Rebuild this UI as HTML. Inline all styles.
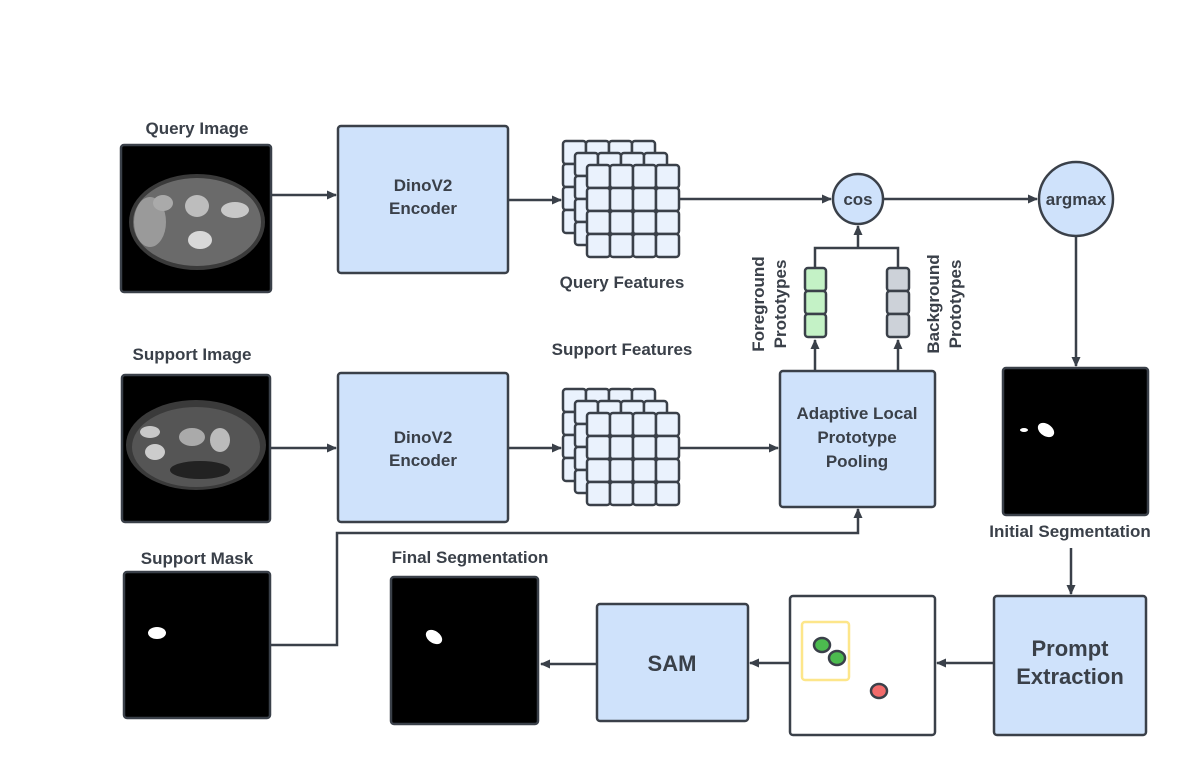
<!DOCTYPE html>
<html><head><meta charset="utf-8"><style>
html,body{margin:0;padding:0;background:#fff;}
svg{display:block;}
text{font-family:"Liberation Sans",sans-serif;font-weight:bold;fill:#3a4049;}
</style></head><body>
<svg width="1196" height="758" viewBox="0 0 1196 758" xmlns="http://www.w3.org/2000/svg">
<defs>
<marker id="ah" markerWidth="10" markerHeight="10" refX="9" refY="5" orient="auto" markerUnits="userSpaceOnUse">
<path d="M0,0.5 L10,5 L0,9.5 z" fill="#3a4049"/></marker>
<g id="grid">
<rect x="0" y="0" width="23" height="23" rx="3"/><rect x="23" y="0" width="23" height="23" rx="3"/><rect x="46" y="0" width="23" height="23" rx="3"/><rect x="69" y="0" width="23" height="23" rx="3"/>
<rect x="0" y="23" width="23" height="23" rx="3"/><rect x="23" y="23" width="23" height="23" rx="3"/><rect x="46" y="23" width="23" height="23" rx="3"/><rect x="69" y="23" width="23" height="23" rx="3"/>
<rect x="0" y="46" width="23" height="23" rx="3"/><rect x="23" y="46" width="23" height="23" rx="3"/><rect x="46" y="46" width="23" height="23" rx="3"/><rect x="69" y="46" width="23" height="23" rx="3"/>
<rect x="0" y="69" width="23" height="23" rx="3"/><rect x="23" y="69" width="23" height="23" rx="3"/><rect x="46" y="69" width="23" height="23" rx="3"/><rect x="69" y="69" width="23" height="23" rx="3"/>
</g>
<g id="stack" fill="#eaf2fd" stroke="#3a4049" stroke-width="2.5">
<use href="#grid" x="0" y="0"/><use href="#grid" x="12" y="12"/><use href="#grid" x="24" y="24"/>
</g>
</defs>

<g stroke="#3a4049" stroke-width="2.5" fill="none">
<line x1="271" y1="195" x2="336" y2="195" marker-end="url(#ah)"/>
<line x1="508" y1="200" x2="561" y2="200" marker-end="url(#ah)"/>
<line x1="680" y1="199" x2="831" y2="199" marker-end="url(#ah)"/>
<line x1="884" y1="199" x2="1037" y2="199" marker-end="url(#ah)"/>
<line x1="1076" y1="236" x2="1076" y2="366" marker-end="url(#ah)"/>
<line x1="1071" y1="548" x2="1071" y2="594" marker-end="url(#ah)"/>
<line x1="994" y1="663" x2="937" y2="663" marker-end="url(#ah)"/>
<line x1="790" y1="663" x2="750" y2="663" marker-end="url(#ah)"/>
<line x1="597" y1="664" x2="541" y2="664" marker-end="url(#ah)"/>
<line x1="270" y1="448" x2="336" y2="448" marker-end="url(#ah)"/>
<line x1="508" y1="448" x2="561" y2="448" marker-end="url(#ah)"/>
<line x1="680" y1="448" x2="778" y2="448" marker-end="url(#ah)"/>
<line x1="815" y1="371" x2="815" y2="340" marker-end="url(#ah)"/>
<line x1="898" y1="371" x2="898" y2="340" marker-end="url(#ah)"/>
<polyline points="815,268 815,248 898,248 898,268"/>
<line x1="858" y1="248" x2="858" y2="226" marker-end="url(#ah)"/>
<polyline points="270,645 337,645 337,533 858,533 858,509" marker-end="url(#ah)"/>
</g>

<g stroke="#3a4049" stroke-width="2.5" fill="#cfe2fb">
<rect x="338" y="126" width="170" height="147" rx="3"/>
<rect x="338" y="373" width="170" height="149" rx="3"/>
<rect x="780" y="371" width="155" height="136" rx="3"/>
<rect x="994" y="596" width="152" height="139" rx="3"/>
<rect x="597" y="604" width="151" height="117" rx="3"/>
<circle cx="858" cy="199" r="25"/>
<circle cx="1076" cy="199" r="37"/>
</g>
<rect x="790" y="596" width="145" height="139" rx="3" fill="#fff" stroke="#3a4049" stroke-width="2.5"/>
<rect x="802" y="622" width="47" height="58" rx="3" fill="none" stroke="#fde68a" stroke-width="2.5"/>
<g stroke="#3a4049" stroke-width="2.5">
<ellipse cx="822" cy="645" rx="8" ry="7" fill="#4cbb4f"/>
<ellipse cx="837" cy="658" rx="8" ry="7" fill="#4cbb4f"/>
<ellipse cx="879" cy="691" rx="8" ry="7" fill="#f26b6b"/>
</g>

<g stroke="#3a4049" stroke-width="2.5">
<rect x="805" y="268" width="21" height="23" rx="3" fill="#c4f2c6"/>
<rect x="805" y="291" width="21" height="23" rx="3" fill="#c4f2c6"/>
<rect x="805" y="314" width="21" height="23" rx="3" fill="#c4f2c6"/>
<rect x="887" y="268" width="22" height="23" rx="3" fill="#cdd2d9"/>
<rect x="887" y="291" width="22" height="23" rx="3" fill="#cdd2d9"/>
<rect x="887" y="314" width="22" height="23" rx="3" fill="#cdd2d9"/>
</g>

<use href="#stack" x="563" y="141"/>
<use href="#stack" x="563" y="389"/>

<g stroke="#3a4049" stroke-width="2.5">
<rect x="121" y="145" width="150" height="147" rx="3" fill="#000"/>
<rect x="122" y="375" width="148" height="147" rx="3" fill="#000"/>
<rect x="124" y="572" width="146" height="146" rx="3" fill="#000"/>
<rect x="391" y="577" width="147" height="147" rx="3" fill="#000"/>
<rect x="1003" y="368" width="145" height="147" rx="3" fill="#000"/>
</g>
<ellipse cx="197" cy="222" rx="68" ry="48" fill="#3a3a3a"/>
<ellipse cx="197" cy="222" rx="64" ry="44" fill="#6a6a6a"/>
<ellipse cx="150" cy="222" rx="16" ry="25" fill="#9a9a9a"/>
<ellipse cx="197" cy="206" rx="12" ry="11" fill="#bdbdbd"/>
<ellipse cx="200" cy="240" rx="12" ry="9" fill="#d8d8d8"/>
<ellipse cx="235" cy="210" rx="14" ry="8" fill="#c8c8c8"/>
<ellipse cx="163" cy="203" rx="10" ry="8" fill="#aaa"/>
<ellipse cx="196" cy="445" rx="70" ry="45" fill="#3a3a3a"/>
<ellipse cx="196" cy="447" rx="64" ry="40" fill="#555"/>
<ellipse cx="150" cy="432" rx="10" ry="6" fill="#c8c8c8"/>
<ellipse cx="192" cy="437" rx="13" ry="9" fill="#aaa"/>
<ellipse cx="220" cy="440" rx="10" ry="12" fill="#bbb"/>
<ellipse cx="155" cy="452" rx="10" ry="8" fill="#ccc"/>
<ellipse cx="200" cy="470" rx="30" ry="9" fill="#222"/>
<ellipse cx="157" cy="633" rx="9" ry="6" fill="#fff"/>
<ellipse cx="434" cy="637" rx="9" ry="6" transform="rotate(35 434 637)" fill="#fff"/>
<ellipse cx="1046" cy="430" rx="9" ry="6" transform="rotate(35 1046 430)" fill="#fff"/>
<ellipse cx="1024" cy="430" rx="4" ry="2" fill="#fff"/>

<g font-size="17" text-anchor="middle">
<text x="197" y="134">Query Image</text>
<text x="192" y="360">Support Image</text>
<text x="197" y="564">Support Mask</text>
<text x="470" y="563">Final Segmentation</text>
<text x="1070" y="537">Initial Segmentation</text>
<text x="622" y="288">Query Features</text>
<text x="622" y="355">Support Features</text>
<text x="423" y="191">DinoV2</text>
<text x="423" y="214">Encoder</text>
<text x="423" y="443">DinoV2</text>
<text x="423" y="466">Encoder</text>
<text x="857" y="419">Adaptive Local</text>
<text x="857" y="443">Prototype</text>
<text x="857" y="467">Pooling</text>
<text x="858" y="205">cos</text>
<text x="1076" y="205">argmax</text>
</g>
<g font-size="22" text-anchor="middle">
<text x="672" y="671">SAM</text>
<text x="1070" y="656">Prompt</text>
<text x="1070" y="684">Extraction</text>
</g>
<g font-size="17" text-anchor="middle">
<text transform="translate(764,304) rotate(-90)">Foreground</text>
<text transform="translate(786,304) rotate(-90)">Prototypes</text>
<text transform="translate(939,304) rotate(-90)">Background</text>
<text transform="translate(961,304) rotate(-90)">Prototypes</text>
</g>
</svg>
</body></html>
